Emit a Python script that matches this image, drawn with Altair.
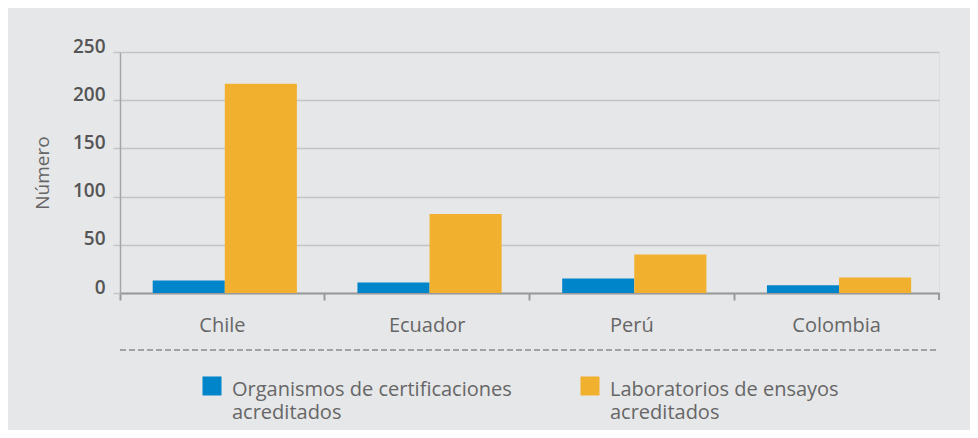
import altair as alt
import pandas as pd

# ---- data ----
countries = ["Chile", "Ecuador", "Perú", "Colombia"]
organismos = [13, 11, 15, 8]
laboratorios = [217, 82, 40, 16]
series = ["Organismos de certificaciones|acreditados",
          "Laboratorios de ensayos|acreditados"]
colors = ["#0084ca", "#f2b02f"]
y_ticks = [0, 50, 100, 150, 200, 250]

rows = []
for c, o, l in zip(countries, organismos, laboratorios):
    rows.append({"pais": c, "serie": series[0], "valor": o})
    rows.append({"pais": c, "serie": series[1], "valor": l})
df = pd.DataFrame(rows)

W, H = 819, 241
FONT = "Open Sans"

bars = alt.Chart(df).mark_bar().encode(
    x=alt.X(
        "pais:N", sort=countries, title=None,
        scale=alt.Scale(paddingInner=0, paddingOuter=0),
        axis=alt.Axis(
            bandPosition=0, labelAngle=0,
            labelFont=FONT, labelFontSize=20, labelColor="#666666",
            labelPadding=15, tickSize=7, tickColor="#9a9a9a", tickWidth=2,
            domainColor="#9a9a9a", domainWidth=2, grid=False,
        ),
    ),
    xOffset=alt.XOffset(
        "serie:N", sort=series,
        scale=alt.Scale(paddingInner=0, paddingOuter=0.42, align=0.54),
    ),
    y=alt.Y(
        "valor:Q", scale=alt.Scale(domain=[0, 250], nice=False),
        title="Número",
        axis=alt.Axis(
            values=y_ticks, grid=True, gridColor="#c4c4c4", gridWidth=1.5,
            domainColor="#a6a6a6", domainWidth=1.5,
            tickColor="#c4c4c4", tickWidth=1.5, tickSize=7,
            labelFont=FONT, labelFontSize=19, labelFontWeight=600,
            labelColor="#555555", labelPadding=8, labelBaseline="alphabetic",
            titleFont=FONT, titleFontSize=19, titleFontWeight="normal",
            titleColor="#666666", titleX=-78, titleY=H / 2, titleAngle=270,
            titleAlign="center", titleBaseline="middle",
        ),
    ),
    color=alt.Color(
        "serie:N", sort=series,
        scale=alt.Scale(domain=series, range=colors),
        legend=alt.Legend(
            title=None, orient="none", legendX=82, legendY=318,
            direction="horizontal", columns=2, columnPadding=68,
            padding=0, labelExpr="split(datum.label, '|')",
            labelFont=FONT, labelFontSize=20, labelColor="#666666",
            labelBaseline="top", labelLimit=400, labelOffset=10,
            symbolType="M-1,-0.37H1V1.63H-1Z", symbolSize=361,
            symbolStrokeWidth=0, symbolOpacity=1,
        ),
    ),
)

one = pd.DataFrame({"k": [0]})

end_tick = alt.Chart(one).mark_rule(color="#9a9a9a", strokeWidth=2).encode(
    x=alt.value(W), y=alt.value(H), y2=alt.value(H + 7)
)

separator = alt.Chart(one).mark_rule(
    color="#8c8c8c", strokeWidth=1.5, strokeDash=[6, 3]
).encode(x=alt.value(0), x2=alt.value(W), y=alt.value(298))

chart = alt.layer(bars, end_tick, separator).properties(
    width=W, height=H,
    autosize=alt.AutoSizeParams(type="none"),
    padding={"left": 112, "top": 44, "right": 31, "bottom": 137},
    background="#e6e7e9",
).configure_view(stroke=None).configure(
    style={"guide-label": {"lineHeight": 23}}
)

chart.save("out.html", embed_options={"renderer": "svg", "actions": False})
